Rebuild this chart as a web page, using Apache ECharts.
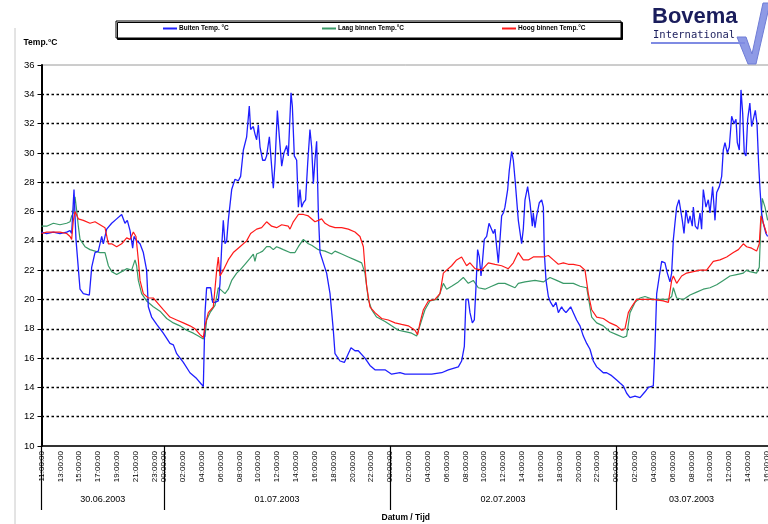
<!DOCTYPE html>
<html><head><meta charset="utf-8">
<script src="https://cdn.jsdelivr.net/npm/echarts@6/dist/echarts.min.js"></script>
<style>html,body{margin:0;padding:0;background:#fff}#c{width:768px;height:524px}</style>
</head><body><div id="c"></div>
<script>
// hours counted from 30.06.2003 00:00
const seriesNames = ['Buiten Temp. °C', 'Laag binnen Temp.°C', 'Hoog binnen Temp.°C'];
const timeTicks = [11,13,15,17,19,21,23,24,26,28,30,32,34,36,38,40,42,44,46,48,50,52,54,56,58,60,62,64,66,68,70,72,74,76,78,80,82,84,86,88];
const dayStarts = [11,24,48,72];
const dateLabels = ['30.06.2003','01.07.2003','02.07.2003','03.07.2003'];
const dateLabelAt = [17.5,36,60,80];
const yMin = 10, yMax = 36, yStep = 2;

const buiten = [[11,24.6],[11.55,24.5],[12.26,24.6],[12.96,24.5],[13.67,24.6],[14.03,24.7],[14.2,24.5],[14.45,27.5],[14.66,24.1],[15.09,20.7],[15.44,20.4],[16.08,20.3],[16.33,22.2],[16.68,23.2],[17.03,23.3],[17.39,24.3],[17.56,23.8],[17.92,24.8],[18.45,25.2],[18.98,25.5],[19.51,25.8],[19.86,25.2],[20.11,25.4],[20.4,24.7],[20.68,23.5],[20.82,24.3],[21.1,24.0],[21.46,23.8],[21.81,23.2],[22.16,22.0],[22.34,19.5],[22.69,18.8],[23.23,18.3],[23.93,17.7],[24.64,17.0],[25.0,16.9],[25.35,16.3],[26.06,15.7],[26.76,15.0],[27.47,14.6],[28.0,14.2],[28.18,14.05],[28.36,19.1],[28.53,20.8],[28.96,20.8],[29.17,19.8],[29.42,19.8],[29.77,19.9],[29.95,21.1],[30.13,23.6],[30.3,25.4],[30.48,23.8],[30.66,24.0],[30.83,25.4],[31.19,27.5],[31.54,28.2],[31.9,28.1],[32.14,28.4],[32.43,30.2],[32.78,31.1],[33.06,33.2],[33.2,31.6],[33.49,31.8],[33.66,31.3],[33.84,30.9],[34.02,31.9],[34.2,30.4],[34.48,29.5],[34.73,29.5],[34.9,29.8],[35.19,31.1],[35.43,29.1],[35.61,27.6],[35.79,29.3],[36.04,32.9],[36.25,31.1],[36.5,29.1],[36.74,30.0],[37.03,30.5],[37.2,29.8],[37.49,34.1],[37.63,33.2],[37.84,29.8],[38.09,29.5],[38.27,26.3],[38.44,27.5],[38.62,26.3],[38.8,26.6],[39.04,26.8],[39.26,29.3],[39.5,31.6],[39.68,30.4],[39.86,27.9],[40.03,29.5],[40.21,30.8],[40.39,25.9],[40.57,23.2],[40.92,22.5],[41.27,21.8],[41.63,20.4],[41.98,17.9],[42.16,16.3],[42.69,15.8],[43.15,15.7],[43.57,16.3],[43.86,16.7],[44.28,16.5],[44.63,16.5],[45.34,16.0],[45.87,15.5],[46.4,15.2],[47.47,15.2],[48.17,14.9],[49.06,15.0],[49.59,14.9],[51.0,14.9],[52.42,14.9],[53.48,15.0],[54.19,15.2],[55.25,15.4],[55.6,15.8],[55.89,16.8],[56.06,20.0],[56.31,20.0],[56.49,19.1],[56.74,18.4],[56.95,18.6],[57.13,20.9],[57.3,23.4],[57.48,22.9],[57.66,21.6],[57.83,22.7],[58.01,24.1],[58.26,24.3],[58.51,25.2],[58.72,25.3],[58.97,24.5],[59.14,24.8],[59.32,23.6],[59.5,22.5],[59.85,25.7],[60.03,25.9],[60.2,26.3],[60.49,27.5],[60.66,28.8],[60.91,30.1],[61.09,29.5],[61.27,28.2],[61.62,25.4],[61.97,23.8],[62.15,24.8],[62.33,26.8],[62.61,27.7],[62.86,26.6],[63.11,25.0],[63.21,25.9],[63.39,24.9],[63.57,25.7],[63.85,26.6],[64.1,26.8],[64.28,26.3],[64.38,23.2],[64.56,21.3],[64.81,20.2],[65.05,19.8],[65.34,19.5],[65.62,19.8],[65.87,19.1],[66.22,19.5],[66.4,19.3],[66.68,19.1],[66.93,19.3],[67.18,19.5],[67.46,19.1],[67.81,18.6],[68.17,18.2],[68.52,17.5],[68.88,17.0],[69.23,16.6],[69.58,15.8],[69.94,15.4],[70.29,15.2],[70.64,15.0],[71.0,15.0],[71.53,14.8],[72.06,14.5],[72.41,14.3],[72.77,14.1],[73.12,13.6],[73.48,13.3],[74.01,13.4],[74.54,13.3],[75.07,13.7],[75.42,14.0],[75.95,14.1],[76.13,16.8],[76.31,20.4],[76.59,21.6],[76.84,22.6],[77.19,22.5],[77.44,21.8],[77.72,21.2],[77.9,21.8],[78.08,24.1],[78.25,25.2],[78.43,26.3],[78.68,26.8],[78.85,26.8],[79.03,25.4],[79.21,24.5],[79.42,26.1],[79.67,25.2],[79.85,25.7],[80.09,25.0],[80.2,26.3],[80.41,25.0],[80.66,24.8],[80.91,25.9],[81.08,24.8],[81.26,27.5],[81.54,26.3],[81.79,26.8],[81.97,25.9],[82.25,27.7],[82.5,25.4],[82.68,27.3],[82.96,27.7],[83.21,28.4],[83.38,30.2],[83.56,30.7],[83.81,30.0],[84.02,30.4],[84.27,32.5],[84.52,32.0],[84.73,32.3],[84.87,30.7],[85.08,30.2],[85.26,34.3],[85.44,32.7],[85.61,30.0],[85.79,29.8],[85.97,32.3],[86.2,33.4],[86.39,31.8],[86.57,32.3],[86.78,32.9],[86.96,32.0],[87.13,29.3],[87.28,27.5],[87.45,25.9],[87.63,25.2],[87.91,24.5],[88.09,24.3]];

const laagBinnen = [[11,25.0],[11.55,25.0],[12.26,25.2],[12.96,25.1],[13.67,25.2],[14.03,25.3],[14.2,25.7],[14.38,25.9],[14.56,27.0],[14.73,26.1],[14.91,25.0],[15.09,24.1],[15.62,23.6],[16.15,23.4],[16.68,23.3],[17.21,23.2],[17.74,23.2],[18.1,22.3],[18.45,21.9],[18.98,21.7],[19.51,21.9],[20.04,22.1],[20.57,22.0],[20.93,22.7],[21.1,22.3],[21.28,21.3],[21.63,20.4],[22.16,19.9],[22.87,19.5],[23.58,19.2],[24.29,18.7],[25.0,18.4],[25.7,18.2],[26.41,17.9],[27.12,17.7],[27.65,17.5],[28.18,17.3],[28.36,17.5],[28.53,18.6],[28.89,19.1],[29.42,19.6],[29.77,20.8],[30.13,20.6],[30.48,20.4],[30.83,20.7],[31.19,21.3],[31.72,21.8],[32.07,22.0],[32.6,22.4],[33.13,22.8],[33.49,23.1],[33.66,22.6],[33.84,23.1],[34.2,23.2],[34.48,23.3],[34.9,23.6],[35.26,23.6],[35.61,23.4],[35.96,23.6],[36.32,23.5],[36.67,23.4],[37.38,23.2],[37.91,23.2],[38.27,23.6],[38.8,24.1],[39.33,23.8],[39.68,23.7],[40.39,23.4],[41.1,23.3],[41.8,23.1],[42.16,23.3],[42.87,23.1],[43.57,22.9],[44.28,22.7],[44.99,22.5],[45.34,21.8],[45.52,20.9],[45.7,20.0],[46.05,19.3],[46.58,18.8],[47.47,18.5],[48.17,18.2],[48.88,17.9],[49.59,17.8],[50.3,17.7],[50.83,17.5],[51.0,17.6],[51.36,18.6],[51.71,19.3],[52.24,19.9],[52.95,20.0],[53.3,20.4],[53.66,21.1],[54.01,20.7],[54.54,20.9],[55.25,21.2],[55.78,21.5],[56.31,21.1],[56.84,21.3],[57.37,20.8],[58.08,20.7],[58.79,20.9],[59.5,21.1],[60.2,21.1],[61.27,20.8],[61.62,21.1],[62.33,21.2],[63.39,21.3],[63.57,21.2],[64.28,21.2],[64.98,21.5],[65.69,21.3],[66.4,21.1],[67.46,21.1],[68.17,20.9],[68.88,20.8],[69.41,18.8],[69.94,18.4],[70.64,18.2],[71.35,17.8],[72.06,17.6],[72.77,17.4],[73.12,17.5],[73.48,19.1],[74.01,19.8],[74.54,20.1],[75.07,20.2],[75.95,20.0],[77.01,20.0],[77.55,20.0],[77.9,20.2],[78.08,20.8],[78.43,20.1],[79.14,20.0],[79.85,20.3],[80.55,20.5],[81.26,20.7],[81.97,20.8],[82.68,21.0],[83.38,21.3],[84.09,21.6],[84.8,21.7],[85.51,21.8],[85.86,22.0],[86.2,21.9],[86.92,21.8],[87.2,22.2],[87.35,24.8],[87.52,26.9],[87.81,26.3],[88.09,25.4]];

const hoogBinnen = [[11,24.5],[11.55,24.6],[12.26,24.6],[12.96,24.6],[13.67,24.5],[14.03,24.3],[14.2,24.1],[14.38,25.4],[14.56,26.0],[14.91,25.5],[15.44,25.4],[16.15,25.2],[16.68,25.3],[17.21,25.1],[17.74,24.9],[18.1,23.8],[18.45,23.8],[18.98,23.6],[19.51,23.8],[20.04,24.2],[20.4,24.1],[20.75,24.6],[21.03,24.3],[21.28,22.7],[21.46,21.3],[21.81,20.4],[22.34,20.1],[22.87,20.1],[23.4,19.7],[23.93,19.3],[24.64,18.8],[25.35,18.6],[26.06,18.4],[26.76,18.2],[27.3,18.0],[27.83,17.6],[28.18,17.4],[28.36,18.2],[28.71,19.1],[29.24,19.5],[29.6,22.0],[29.77,22.9],[29.95,21.6],[30.3,22.0],[30.83,22.7],[31.36,23.2],[32.07,23.6],[32.78,24.0],[33.2,24.5],[33.84,24.8],[34.37,24.9],[34.9,25.3],[35.43,25.0],[35.96,24.9],[36.5,25.1],[36.67,25.2],[37.2,25.0],[37.38,24.8],[37.73,25.3],[38.27,25.8],[38.8,25.8],[39.33,25.7],[40.03,25.3],[40.39,25.4],[40.74,25.5],[41.1,25.2],[41.63,25.0],[42.16,24.9],[42.87,24.9],[43.57,24.8],[44.28,24.6],[44.81,24.3],[45.17,23.6],[45.34,22.2],[45.52,20.9],[45.87,19.5],[46.4,19.1],[47.11,18.7],[47.82,18.6],[48.53,18.4],[49.23,18.3],[49.94,18.2],[50.65,17.9],[50.93,17.6],[51.18,18.4],[51.54,19.3],[52.07,19.9],[52.77,20.0],[53.3,20.4],[53.66,21.8],[54.01,22.0],[54.54,22.3],[55.07,22.7],[55.6,22.9],[56.13,22.3],[56.49,22.5],[57.02,22.1],[57.73,22.0],[58.44,22.5],[59.14,22.4],[59.85,22.3],[60.56,22.1],[61.09,22.5],[61.62,23.2],[62.15,22.7],[62.68,22.7],[63.21,22.9],[63.57,22.9],[64.28,22.9],[64.81,23.0],[65.34,22.7],[65.87,22.4],[66.4,22.5],[66.93,22.4],[67.46,22.4],[68.17,22.3],[68.7,22.0],[69.05,20.4],[69.41,19.3],[69.94,18.8],[70.64,18.7],[71.35,18.4],[72.06,18.2],[72.59,17.9],[72.94,18.0],[73.3,19.1],[73.65,19.5],[74.18,20.0],[74.89,20.0],[75.95,20.0],[77.01,19.9],[77.55,19.8],[77.9,21.3],[78.08,21.6],[78.43,21.1],[78.96,21.6],[79.49,21.8],[80.2,21.9],[80.91,22.0],[81.61,22.0],[82.32,22.6],[83.03,22.7],[83.74,22.9],[84.45,23.2],[84.98,23.4],[85.51,23.8],[85.86,23.6],[86.39,23.5],[86.92,23.3],[87.2,23.8],[87.38,25.7],[87.63,25.2],[87.98,24.5]];

const colors = ['#1f1fff', '#3a9a68', '#ff1a1a'];
const xMin = 11, xMax = 88.34;

function pad(n){ return (n < 10 ? '0' : '') + n; }
const nSplit = (yMax - yMin) / yStep + 1;
const splitColors = [];
for (let i = 0; i < nSplit; i++) splitColors.push(i === 0 || i === nSplit - 1 ? 'rgba(0,0,0,0)' : '#000');

const chart = echarts.init(document.getElementById('c'), null, {renderer: 'canvas'});
const legendCommon = {
  top: 25, padding: 0, itemWidth: 14, itemHeight: 2, icon: 'rect', itemGap: 4,
  textStyle: {fontSize: 6.5, fontWeight: 'bold', color: '#000', fontFamily: 'Liberation Sans', padding: [0,0,0,-3]},
  selectedMode: false, z: 10
};
chart.setOption({
  animation: false,
  backgroundColor: '#fff',
  color: colors,
  grid: {left: 41.5, right: -2, top: 65, bottom: 78, outerBoundsMode: 'none', containLabel: false, show: true, borderColor: '#9a9a9a', borderWidth: 1, backgroundColor: 'rgba(0,0,0,0)'},
  legend: [
    Object.assign({}, legendCommon, {data: [seriesNames[0]], left: 163}),
    Object.assign({}, legendCommon, {data: [seriesNames[1]], left: 322}),
    Object.assign({}, legendCommon, {data: [seriesNames[2]], left: 502})
  ],
  xAxis: [{
    type: 'value', min: xMin, max: xMax,
    axisLine: {show: true, onZero: false, lineStyle: {color: '#000', width: 1.5}},
    splitLine: {show: false},
    axisTick: {show: true, customValues: dayStarts, length: 64, lineStyle: {color: '#000', width: 1.2}},
    axisLabel: {
      customValues: timeTicks, rotate: 90, margin: 5, fontSize: 8, color: '#000', fontFamily: 'Liberation Sans',
      formatter: function (v) { return pad(Math.round(v) % 24) + ':00:00'; }
    }
  }, {
    type: 'value', min: xMin, max: xMax, position: 'bottom',
    axisLine: {show: false}, axisTick: {show: false}, splitLine: {show: false},
    axisLabel: {
      customValues: dateLabelAt, margin: 49, fontSize: 9, color: '#000', fontFamily: 'Liberation Sans',
      formatter: function (v) { const i = dateLabelAt.indexOf(v); return i >= 0 ? dateLabels[i] : ''; }
    },
    name: 'Datum / Tijd', nameLocation: 'middle', nameGap: 67,
    nameTextStyle: {fontSize: 8.5, fontWeight: 'bold', color: '#000', fontFamily: 'Liberation Sans'}
  }],
  yAxis: {
    type: 'value', min: yMin, max: yMax, interval: yStep,
    name: 'Temp.°C', nameLocation: 'end', nameGap: 18,
    nameTextStyle: {fontSize: 8.5, fontWeight: 'bold', color: '#000', fontFamily: 'Liberation Sans', align: 'center', padding: [0, 2, 0, 0]},
    axisLine: {show: true, lineStyle: {color: '#000', width: 2}},
    axisTick: {show: true, length: 4, lineStyle: {color: '#000', width: 1}},
    axisLabel: {fontSize: 9.5, color: '#000', margin: 7, fontFamily: 'Liberation Sans'},
    splitLine: {show: true, lineStyle: {color: splitColors, width: 1.3, type: [2.5, 2.5]}}
  },
  series: [
    {name: seriesNames[0], type: 'line', data: buiten, showSymbol: false, symbol: 'none', lineStyle: {width: 1.3, color: colors[0]}, z: 4},
    {name: seriesNames[1], type: 'line', data: laagBinnen, showSymbol: false, symbol: 'none', lineStyle: {width: 1.2, color: colors[1]}, z: 3},
    {name: seriesNames[2], type: 'line', data: hoogBinnen, showSymbol: false, symbol: 'none', lineStyle: {width: 1.2, color: colors[2]}, z: 5}
  ],
  graphic: [
    {type: 'line', shape: {x1: 15, y1: 28, x2: 15, y2: 524}, style: {stroke: '#c8c8c8', lineWidth: 1}, z: 0, silent: true},
    {type: 'rect', shape: {x: 116, y: 21, width: 505, height: 17}, style: {fill: '#fff', stroke: '#000', lineWidth: 1, shadowColor: '#000', shadowOffsetX: 1.5, shadowOffsetY: 1.5, shadowBlur: 0}, z: 1, silent: true},
    {type: 'polygon', shape: {points: [[737,37],[746,37],[752,54],[763,3],[770,3],[756,64],[748,64]]}, style: {fill: '#8e9ae6', stroke: '#6f7cd6', lineWidth: 1}, z: 1, silent: true},
    {type: 'line', shape: {x1: 651, y1: 43, x2: 745, y2: 43}, style: {stroke: '#7f8be3', lineWidth: 2}, z: 2, silent: true},
    {type: 'text', z: 3, silent: true, style: {text: 'Bovema', x: 652, y: 28, font: 'bold 22px "Liberation Sans"', fill: '#1a1d5c', textAlign: 'left', textVerticalAlign: 'bottom', align: 'left', verticalAlign: 'bottom'}},
    {type: 'text', z: 3, silent: true, style: {text: 'International', x: 653, y: 41, font: '10.5px "DejaVu Sans Mono"', fill: '#1a1d5c', textAlign: 'left', textVerticalAlign: 'bottom', align: 'left', verticalAlign: 'bottom'}}
  ]
});
</script>
</body></html>
